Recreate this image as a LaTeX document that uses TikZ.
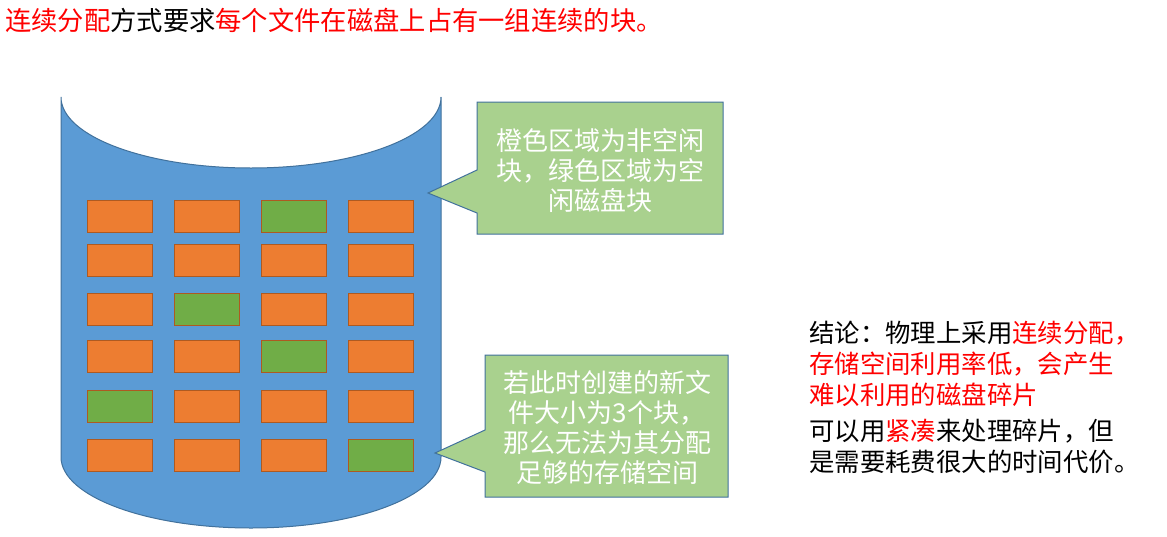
\documentclass[tikz,border=0pt]{standalone}
\usepackage{fontspec}
\setmainfont{Noto Sans CJK SC}
\definecolor{cylblue}{HTML}{5B9BD5}
\definecolor{cylline}{HTML}{41719C}
\definecolor{blkorange}{HTML}{ED7D31}
\definecolor{blkgreen}{HTML}{70AD47}
\definecolor{blkline}{HTML}{AE5A21}
\definecolor{callfill}{HTML}{A9D18E}
\definecolor{hired}{HTML}{FF0000}
\tikzset{
  blko/.style={draw=blkline, fill=blkorange, line width=1pt, minimum width=65pt, minimum height=32pt, inner sep=0pt},
  blkg/.style={draw=blkline, fill=blkgreen, line width=1pt, minimum width=65pt, minimum height=32pt, inner sep=0pt},
  calloutbox/.style={draw=cylline, fill=callfill, line width=1pt, line join=miter},
  callouttext/.style={text=white, align=center, inner sep=0pt, font=\fontsize{26}{30}\selectfont},
  bodytext/.style={anchor=west, inner sep=0pt, align=left, font=\fontsize{25.4}{31}\selectfont},
}
\begin{document}
\begin{tikzpicture}[x=1pt,y=-1pt]
\useasboundingbox (0,0) rectangle (1167,536);
% title
\node[anchor=west, inner sep=0pt, font=\fontsize{26.3}{30}\selectfont] (title) at (5,20)
  {\textcolor{hired}{连续分配}方式要求\textcolor{hired}{每个文件在磁盘上占有一组连续的块。}};
% cylinder
\draw[fill=cylblue, draw=cylline, line width=1pt] (61,97) -- (61,457) arc (180:0:190 and 71) -- (441,97) arc (0:180:190 and 71) -- cycle;
% blocks
\foreach \r/\y/\a/\b/\cc/\d in {1/200/o/o/g/o, 2/244/o/o/o/o, 3/293/o/g/o/o, 4/340/o/o/g/o, 5/390/g/o/o/o, 6/439/o/o/o/g} {
  \node[blk\a] (b\r1) at (119.5,\y+16) {};
  \node[blk\b] (b\r2) at (206.5,\y+16) {};
  \node[blk\cc] (b\r3) at (293.5,\y+16) {};
  \node[blk\d] (b\r4) at (380.5,\y+16) {};
}
% callout 1
\draw[calloutbox] (477,102) -- (723,102) -- (723,234) -- (477,234) -- (477,213) -- (428,193) -- (477,170) -- cycle;
\node[callouttext] (c1) at (600,171) {橙色区域为非空闲\\块，绿色区域为空\\闲磁盘块};
% callout 2
\draw[calloutbox] (485,355) -- (728,355) -- (728,497) -- (485,497) -- (485,472) -- (435,453) -- (485,430) -- cycle;
\node[callouttext] (c2) at (607,428) {若此时创建的新文\\件大小为3个块，\\那么无法为其分配\\足够的存储空间};
% conclusion
\node[bodytext] (concl) at (809,364) {结论：物理上采用\textcolor{hired}{连续分配，}\\\textcolor{hired}{存储空间利用率低，会产生}\\\textcolor{hired}{难以利用的磁盘碎片}};
\node[bodytext] (compact) at (809,446) {可以用\textcolor{hired}{紧凑}来处理碎片，但\\是需要耗费很大的时间代价。};
\end{tikzpicture}
\end{document}
